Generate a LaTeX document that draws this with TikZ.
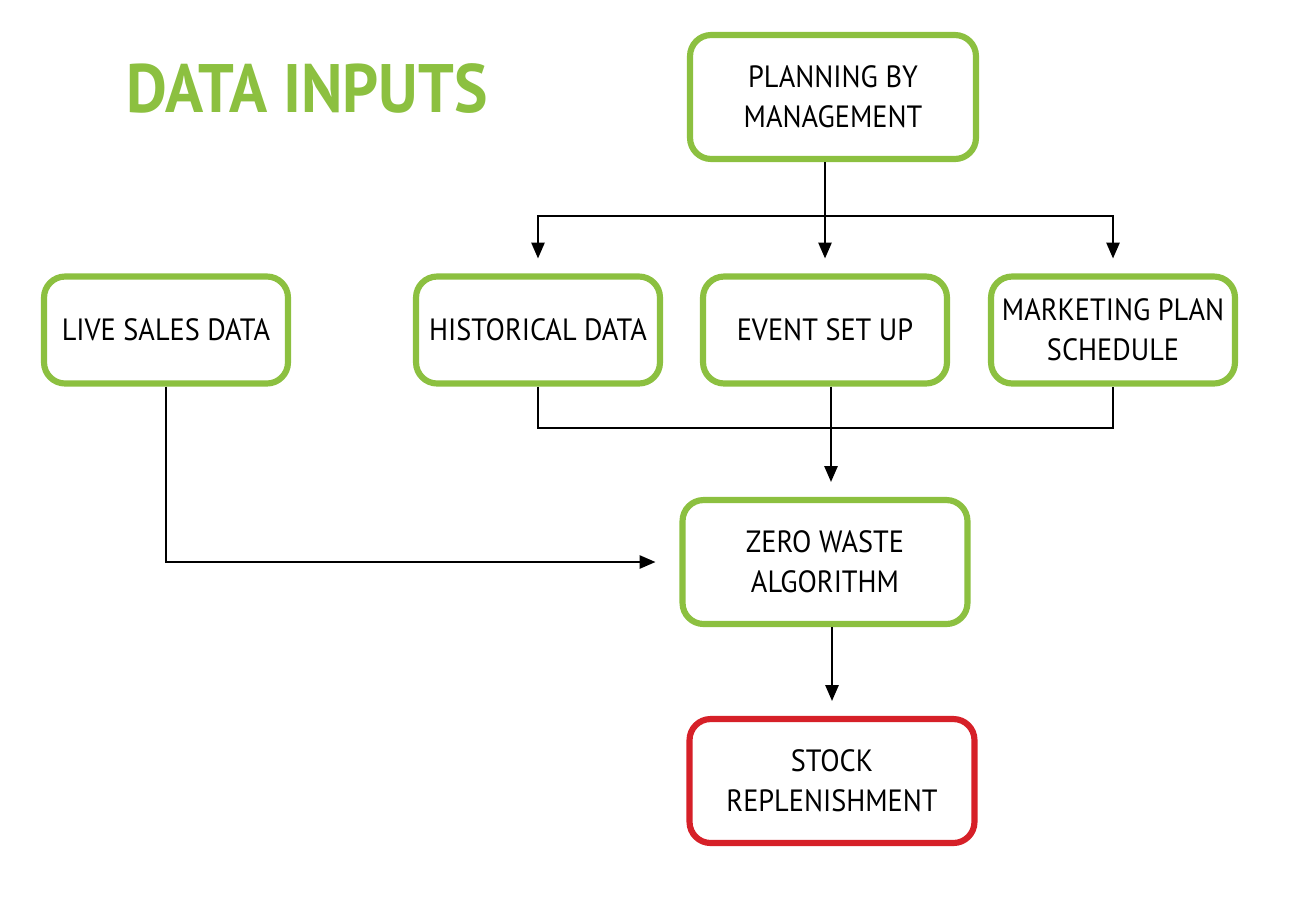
\documentclass[tikz,border=0pt]{standalone}
\usepackage{fontspec}
\setmainfont[FakeStretch=0.92]{PT Sans}
\usetikzlibrary{arrows.meta}
\definecolor{leaf}{RGB}{140,192,64}
\definecolor{alert}{RGB}{214,32,40}
\tikzset{
	box/.style={draw=leaf,line width=3.5pt,rounded corners=12pt,fill=white,
		align=center,font=\fontsize{17.5}{22.7}\selectfont,inner sep=2pt},
	flow/.style={line width=1.1pt,-{Triangle[length=9pt,width=7.5pt]},shorten >=0.3cm},
	link/.style={line width=1.1pt}
}
\begin{document}
\begin{tikzpicture}[x=0.02cm,y=-0.02cm]
	\useasboundingbox (0,0) rectangle (1300,897);
	\node[anchor=west,text=leaf,font=\fontsize{39}{41}\selectfont\bfseries] (title) at (120,89) {DATA INPUTS};
	\node[box,minimum width=5.72cm,minimum height=2.48cm] (plan) at (833,97) {PLANNING BY\\MANAGEMENT};
	\node[box,minimum width=4.88cm,minimum height=2.14cm] (live) at (166,330) {LIVE SALES DATA};
	\node[box,minimum width=4.88cm,minimum height=2.14cm] (hist) at (538,330) {HISTORICAL DATA};
	\node[box,minimum width=4.88cm,minimum height=2.14cm] (evt) at (825,330) {EVENT SET UP};
	\node[box,minimum width=4.88cm,minimum height=2.14cm] (mkt) at (1113,330) {MARKETING PLAN\\SCHEDULE};
	\node[box,minimum width=5.7cm,minimum height=2.48cm] (zero) at (825,562) {ZERO WASTE\\ALGORITHM};
	\node[box,draw=alert,minimum width=5.7cm,minimum height=2.48cm] (stock) at (832,781) {STOCK\\REPLENISHMENT};
	\coordinate (split) at (825,216);
	\coordinate (merge) at (831,428);
	% management to the three inputs
	\draw[flow] (plan.south -| split) -- (evt.north);
	\draw[flow] (split) -| (hist.north);
	\draw[flow] (split) -| (mkt.north);
	% inputs into the algorithm
	\draw[link] (hist.south) |- (merge) -| (mkt.south);
	\draw[flow] (evt.south -| merge) -- (merge |- zero.north);
	\draw[flow,shorten >=0.48cm] (live.south) |- (zero.west);
	\draw[flow] (zero.south -| stock) -- (stock.north);
\end{tikzpicture}
\end{document}
